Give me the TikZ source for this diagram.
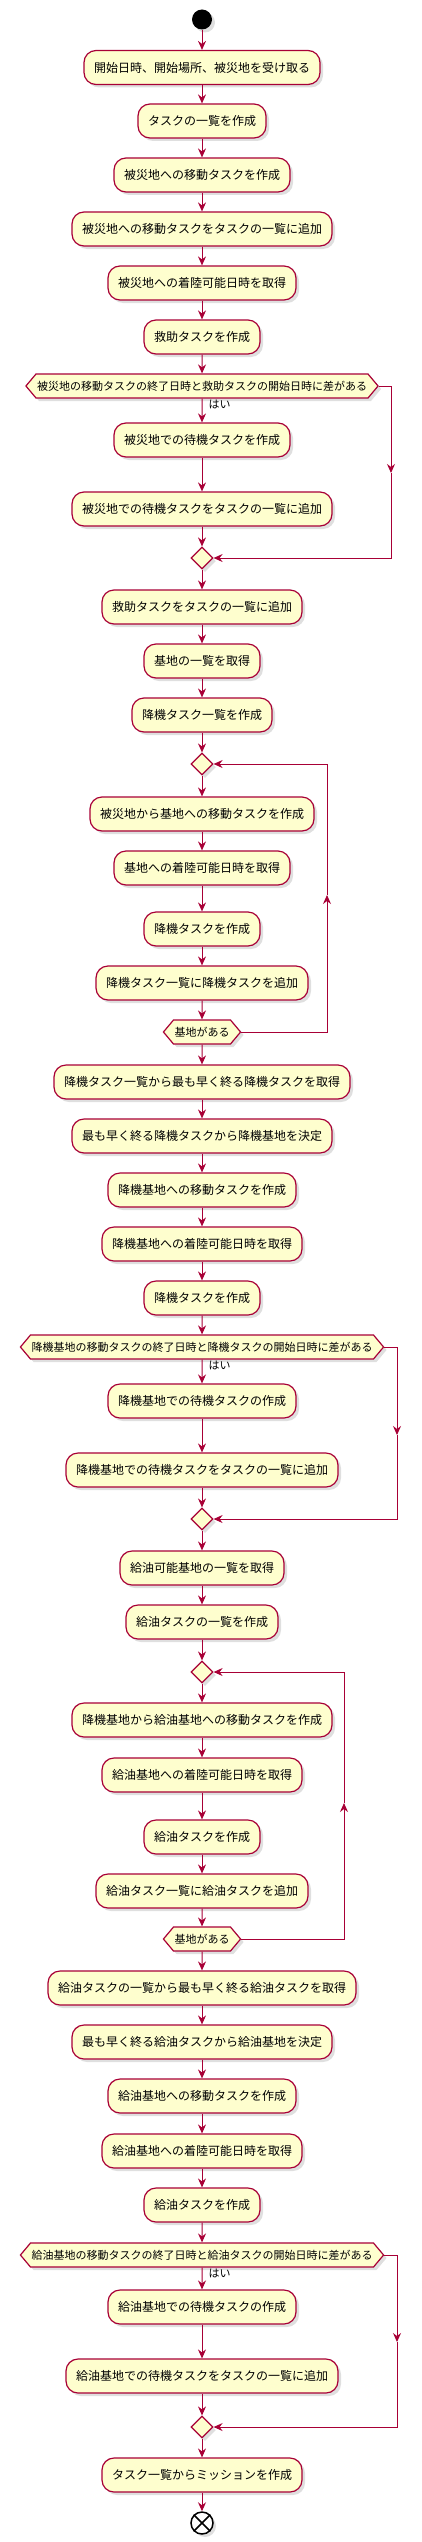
\documentclass[tikz,border=0pt]{standalone}
\usepackage{fontspec}
\setmainfont{Noto Sans CJK JP}
\usepackage{tikz}
\usetikzlibrary{arrows.meta}
\usetikzlibrary{shapes.geometric,shapes.symbols}
\usetikzlibrary{shadows}
\definecolor{boxfill}{HTML}{FEFECE}
\definecolor{boxline}{HTML}{A80036}

\begin{document}
\begin{tikzpicture}[->,>={Stealth[length=9pt,width=8pt,inset=3pt]},x=1pt,y=-1pt,
  every edge/.style={draw=boxline,line width=1pt}]
\tikzstyle{action}=[rectangle,rounded corners=12pt,draw=boxline,fill=boxfill,line width=1.2pt,minimum height=34pt,inner xsep=10pt,font=\fontsize{12}{14}\selectfont,drop shadow={shadow xshift=3pt,shadow yshift=-3pt,opacity=0.25}]
\tikzstyle{test}=[signal,signal to=west and east,signal pointer angle=100,draw=boxline,fill=boxfill,line width=1.2pt,minimum height=24pt,inner xsep=1pt,font=\fontsize{11}{13}\selectfont,drop shadow={shadow xshift=3pt,shadow yshift=-3pt,opacity=0.25}]
\tikzstyle{merge}=[diamond,draw=boxline,fill=boxfill,line width=1.2pt,minimum size=22pt,inner sep=0pt,drop shadow={shadow xshift=3pt,shadow yshift=-3pt,opacity=0.25}]
\tikzstyle{link}=[draw=boxline,line width=1pt]
\tikzstyle{yes}=[font=\fontsize{11}{13}\selectfont,anchor=west,inner sep=0pt,xshift=6pt]

\useasboundingbox (0,0) rectangle (422,2542);

\node [circle,fill=black,minimum size=20pt,inner sep=0pt,drop shadow={shadow xshift=3pt,shadow yshift=-3pt,opacity=0.25}] (start) at (202,19.5) {};
\node [action] (b1) at (202,67.5) {開始日時、開始場所、被災地を受け取る};
\node [action] (b2) at (202,121) {タスクの一覧を作成};
\node [action] (b3) at (202,175) {被災地への移動タスクを作成};
\node [action] (b4) at (202,229) {被災地への移動タスクをタスクの一覧に追加};
\node [action] (b5) at (202,283) {被災地への着陸可能日時を取得};
\node [action] (b6) at (202,337) {救助タスクを作成};
\node [test] (h1) at (202,386) {被災地の移動タスクの終了日時と救助タスクの開始日時に差がある};
\node [action] (b7) at (202,440) {被災地での待機タスクを作成};
\node [action] (b8) at (202,509) {被災地での待機タスクをタスクの一覧に追加};
\node [merge] (m1) at (202,558) {};
\node [action] (b9) at (202,607) {救助タスクをタスクの一覧に追加};
\node [action] (b10) at (202,661) {基地の一覧を取得};
\node [action] (b11) at (202,715) {降機タスク一覧を作成};
\node [merge] (d1) at (202,764) {};
\node [action] (b12) at (202,814) {被災地から基地への移動タスクを作成};
\node [action] (b13) at (202,868) {基地への着陸可能日時を取得};
\node [action] (b14) at (202,929) {降機タスクを作成};
\node [action] (b15) at (202,983) {降機タスク一覧に降機タスクを追加};
\node [test] (h2) at (202,1032) {基地がある};
\node [action] (b16) at (202,1082) {降機タスク一覧から最も早く終る降機タスクを取得};
\node [action] (b17) at (202,1136) {最も早く終る降機タスクから降機基地を決定};
\node [action] (b18) at (202,1190) {降機基地への移動タスクを作成};
\node [action] (b19) at (202,1244) {降機基地への着陸可能日時を取得};
\node [action] (b20) at (202,1298) {降機タスクを作成};
\node [test] (h3) at (202,1347) {降機基地の移動タスクの終了日時と降機タスクの開始日時に差がある};
\node [action] (b21) at (202,1401) {降機基地での待機タスクの作成};
\node [action] (b22) at (202,1470) {降機基地での待機タスクをタスクの一覧に追加};
\node [merge] (m2) at (202,1519) {};
\node [action] (b23) at (202,1568) {給油可能基地の一覧を取得};
\node [action] (b24) at (202,1622) {給油タスクの一覧を作成};
\node [merge] (d2) at (202,1672) {};
\node [action] (b25) at (202,1720) {降機基地から給油基地への移動タスクを作成};
\node [action] (b26) at (202,1775) {給油基地への着陸可能日時を取得};
\node [action] (b27) at (202,1837) {給油タスクを作成};
\node [action] (b28) at (202,1891) {給油タスク一覧に給油タスクを追加};
\node [test] (h4) at (202,1939) {基地がある};
\node [action] (b29) at (202,1988) {給油タスクの一覧から最も早く終る給油タスクを取得};
\node [action] (b30) at (202,2042) {最も早く終る給油タスクから給油基地を決定};
\node [action] (b31) at (202,2096) {給油基地への移動タスクを作成};
\node [action] (b32) at (202,2151) {給油基地への着陸可能日時を取得};
\node [action] (b33) at (202,2205) {給油タスクを作成};
\node [test] (h5) at (202,2255) {給油基地の移動タスクの終了日時と給油タスクの開始日時に差がある};
\node [action] (b34) at (202,2307) {給油基地での待機タスクの作成};
\node [action] (b35) at (202,2376) {給油基地での待機タスクをタスクの一覧に追加};
\node [merge] (m3) at (202,2427) {};
\node [action] (b36) at (202,2475) {タスク一覧からミッションを作成};
\node [circle,draw=black,fill=white,line width=1.5pt,minimum size=22pt,inner sep=0pt,drop shadow={shadow xshift=3pt,shadow yshift=-3pt,opacity=0.25}] (stop) at (202,2523) {};
\draw [-,line width=1.5pt] (stop.north west) -- (stop.south east);
\draw [-,line width=1.5pt] (stop.north east) -- (stop.south west);

\coordinate (r1) at (391,473);
\coordinate (l1) at (327,895);
\coordinate (r2) at (397,1435);
\coordinate (l2) at (344,1803);
\coordinate (r3) at (397,2342);

\path (start) edge (b1);
\path (b1) edge (b2);
\path (b2) edge (b3);
\path (b3) edge (b4);
\path (b4) edge (b5);
\path (b5) edge (b6);
\path (b6) edge (h1);
\path (h1) edge node[yes,pos=0.25] {はい} (b7);
\path (b7) edge (b8);
\path (b8) edge (m1);
\draw [link] (h1.east) -| (r1);
\draw [link] (r1) |- (m1.east);
\path (m1) edge (b9);
\path (b9) edge (b10);
\path (b10) edge (b11);
\path (b11) edge (d1);
\path (d1) edge (b12);
\path (b12) edge (b13);
\path (b13) edge (b14);
\path (b14) edge (b15);
\path (b15) edge (h2);
\draw [link] (h2.east) -| (l1);
\draw [link] (l1) |- (d1.east);
\path (h2) edge (b16);
\path (b16) edge (b17);
\path (b17) edge (b18);
\path (b18) edge (b19);
\path (b19) edge (b20);
\path (b20) edge (h3);
\path (h3) edge node[yes,pos=0.25] {はい} (b21);
\path (b21) edge (b22);
\path (b22) edge (m2);
\draw [link] (h3.east) -| (r2);
\draw [link] (r2) |- (m2.east);
\path (m2) edge (b23);
\path (b23) edge (b24);
\path (b24) edge (d2);
\path (d2) edge (b25);
\path (b25) edge (b26);
\path (b26) edge (b27);
\path (b27) edge (b28);
\path (b28) edge (h4);
\draw [link] (h4.east) -| (l2);
\draw [link] (l2) |- (d2.east);
\path (h4) edge (b29);
\path (b29) edge (b30);
\path (b30) edge (b31);
\path (b31) edge (b32);
\path (b32) edge (b33);
\path (b33) edge (h5);
\path (h5) edge node[yes,pos=0.25] {はい} (b34);
\path (b34) edge (b35);
\path (b35) edge (m3);
\draw [link] (h5.east) -| (r3);
\draw [link] (r3) |- (m3.east);
\path (m3) edge (b36);
\path (b36) edge (stop);
\end{tikzpicture}
\end{document}
